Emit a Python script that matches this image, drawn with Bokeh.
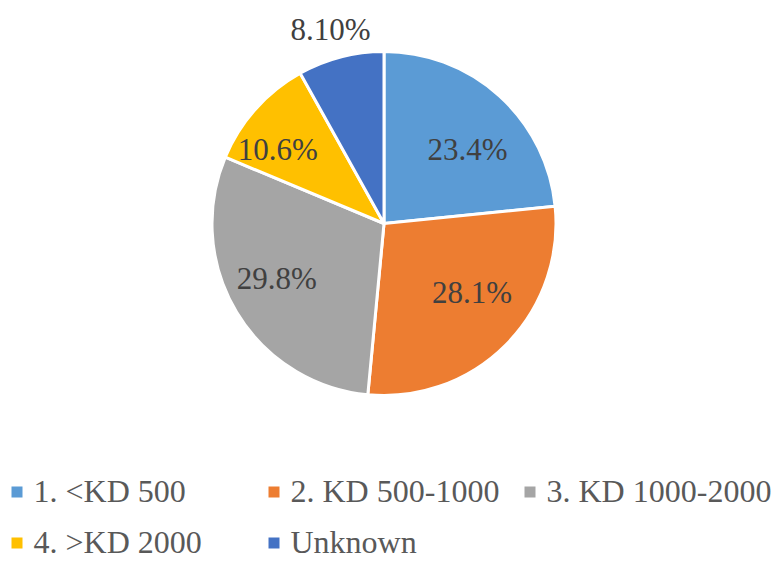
import math
from bokeh.plotting import figure
from bokeh.models import Range1d, ColumnDataSource
from bokeh.core.properties import value
from bokeh.embed import file_html
from bokeh.resources import INLINE

# ---- data ----
categories = ["1. <KD 500", "2. KD 500-1000", "3. KD 1000-2000", "4. >KD 2000", "Unknown"]
values = [23.4, 28.1, 29.8, 10.6, 8.1]
labels = ["23.4%", "28.1%", "29.8%", "10.6%", "8.10%"]
colors = ["#5B9BD5", "#ED7D31", "#A5A5A5", "#FFC000", "#4472C4"]

W, H = 772, 562
p = figure(width=W, height=H, output_backend="svg", toolbar_location=None,
           x_range=Range1d(0, W), y_range=Range1d(0, H), min_border=0)
p.axis.visible = False
p.grid.visible = False
p.outline_line_color = None
p.background_fill_color = "white"
p.border_fill_color = "white"

FONT = value("Times New Roman")

# pie geometry (screen px -> data: x = px, y = H - py)
cx, cy, R = 383.5, H - 223, 172

total = sum(values)
starts, ends, mids = [], [], []
cum = 0.0
for v in values:
    a0 = math.pi / 2 - 2 * math.pi * cum / total
    cum += v
    a1 = math.pi / 2 - 2 * math.pi * cum / total
    starts.append(a1)
    ends.append(a0)
    mids.append((a0 + a1) / 2)

src = ColumnDataSource(dict(start=starts, end=ends, color=colors))
p.wedge(x=cx, y=cy, radius=R, start_angle="start", end_angle="end",
        direction="anticlock", fill_color="color", line_color="white",
        line_width=3, source=src)

# data labels: along the mid angle, with best-fit style nudges (screen px)
label_nudge_x = [5, 5, -7, -19, -3]
label_nudge_y = [15, -11, -3, 5.5, 1.5]
LBL = 31
lx, ly = [], []
for i, m in enumerate(mids):
    d = R * 0.68 if i < len(values) - 1 else R + 28
    lx.append(cx + d * math.cos(m))
    ly.append(cy + d * math.sin(m))
lsrc = ColumnDataSource(dict(x=lx, y=ly, t=labels,
                             xo=label_nudge_x, yo=[v - 2 for v in label_nudge_y]))
p.text(x="x", y="y", text="t", source=lsrc, text_font=FONT,
       text_font_size=f"{LBL}px", text_color="#404040", text_align="center",
       text_baseline="alphabetic", x_offset="xo", y_offset="yo")

# legend
LEG = 32
col_x = [11, 268, 524]
row_base = [503, 554]      # screen baselines
row_sq_top = [486, 537]    # screen tops of the markers
sq = 11
pos = [(0, 0), (0, 1), (0, 2), (1, 0), (1, 1)]
qx0, qx1, qy0, qy1, tx, ty = [], [], [], [], [], []
for (r, c) in pos:
    x0 = col_x[c]
    qx0.append(x0)
    qx1.append(x0 + sq)
    qy1.append(H - row_sq_top[r])
    qy0.append(H - row_sq_top[r] - sq)
    tx.append(x0 + 22)
    ty.append(H - (row_base[r] - 0.4 * LEG))
p.quad(left=qx0, right=qx1, bottom=qy0, top=qy1, fill_color=colors, line_color=None)
p.text(x=tx, y=ty, text=categories, text_font=FONT, text_font_size=f"{LEG}px",
       text_color="#595959", text_align="left", text_baseline="alphabetic")

open("out.html", "w").write(file_html(p, INLINE))
